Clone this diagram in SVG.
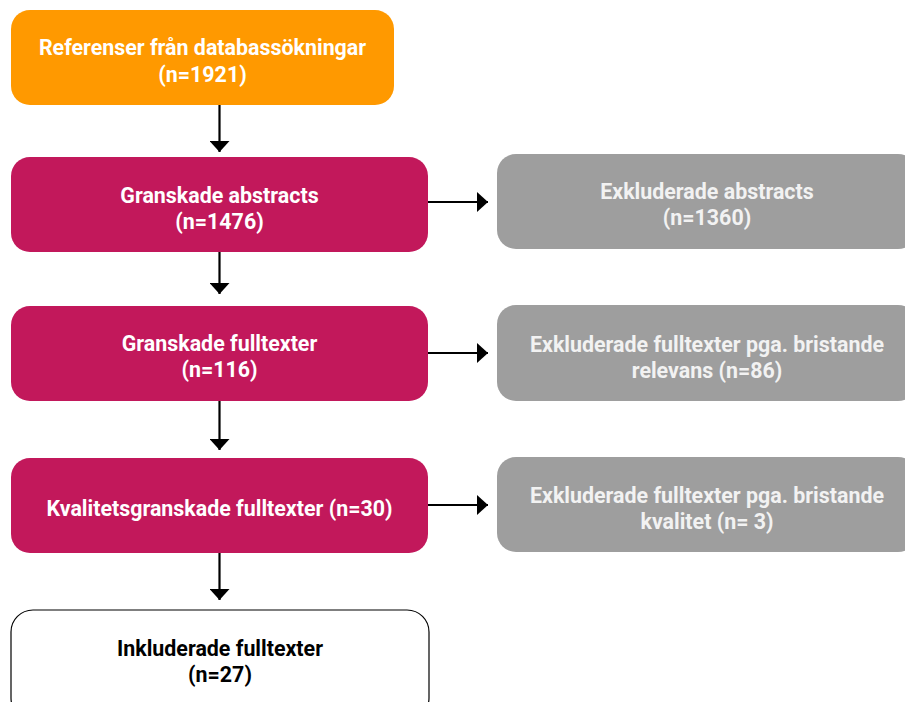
<svg xmlns="http://www.w3.org/2000/svg" width="905" height="702" viewBox="0 0 905 702">
<defs>
<style>
.t{font-family:Roboto,"Liberation Sans",sans-serif;font-weight:bold;font-size:21.4px;text-anchor:middle}
.w{fill:#ffffff}
.g{fill:#f2f2f2}
.k{fill:#000000}
.or{fill:#FF9900}
.mg{fill:#C2185B}
.gr{fill:#9E9E9E}
.wh{fill:#ffffff;stroke:#000000;stroke-width:1.2}
.c{stroke:#000000;stroke-width:2.2;fill:none}
</style>
<marker id="ah" markerWidth="12" markerHeight="20" refX="11" refY="10" orient="auto" markerUnits="userSpaceOnUse">
<path d="M0,0 L11,10 L0,20 Z" fill="#000000"/>
</marker>
</defs>
<rect width="905" height="702" fill="#ffffff"/>
<g id="connectors">
<line class="c" x1="219.5" y1="105" x2="219.5" y2="152" marker-end="url(#ah)"/>
<line class="c" x1="219.5" y1="252" x2="219.5" y2="294" marker-end="url(#ah)"/>
<line class="c" x1="219.5" y1="401" x2="219.5" y2="450" marker-end="url(#ah)"/>
<line class="c" x1="219.5" y1="553" x2="219.5" y2="600" marker-end="url(#ah)"/>
<line class="c" x1="428" y1="202" x2="488" y2="202" marker-end="url(#ah)"/>
<line class="c" x1="428" y1="353" x2="488" y2="353" marker-end="url(#ah)"/>
<line class="c" x1="428" y1="505" x2="488" y2="505" marker-end="url(#ah)"/>
</g>
<g id="n1">
<rect class="or" x="11" y="10" width="383" height="95" rx="19"/>
<text class="t w" x="202.5" y="55">Referenser från databassökningar</text>
<text class="t w" x="202.5" y="82">(n=1921)</text>
</g>
<g id="n2">
<rect class="mg" x="11" y="157" width="417" height="95" rx="19"/>
<text class="t w" x="219.5" y="203">Granskade abstracts</text>
<text class="t w" x="219.5" y="229">(n=1476)</text>
</g>
<g id="n3">
<rect class="mg" x="11" y="306" width="417" height="95" rx="19"/>
<text class="t w" x="219.5" y="351">Granskade fulltexter</text>
<text class="t w" x="219.5" y="377">(n=116)</text>
</g>
<g id="n4">
<rect class="mg" x="11" y="458" width="417" height="95" rx="19"/>
<text class="t w" x="219.5" y="516">Kvalitetsgranskade fulltexter (n=30)</text>
</g>
<g id="n5">
<rect class="wh" x="11" y="610" width="418" height="110" rx="22"/>
<text class="t k" x="220" y="656">Inkluderade fulltexter</text>
<text class="t k" x="220" y="682">(n=27)</text>
</g>
<g id="n6">
<rect class="gr" x="497" y="154" width="420" height="95" rx="19"/>
<text class="t g" x="707" y="199">Exkluderade abstracts</text>
<text class="t g" x="707" y="225">(n=1360)</text>
</g>
<g id="n7">
<rect class="gr" x="497" y="305" width="420" height="96" rx="19"/>
<text class="t g" x="707" y="352">Exkluderade fulltexter pga. bristande</text>
<text class="t g" x="707" y="378">relevans (n=86)</text>
</g>
<g id="n8">
<rect class="gr" x="497" y="457" width="420" height="95" rx="19"/>
<text class="t g" x="707" y="503">Exkluderade fulltexter pga. bristande</text>
<text class="t g" x="707" y="529">kvalitet (n= 3)</text>
</g>
</svg>
